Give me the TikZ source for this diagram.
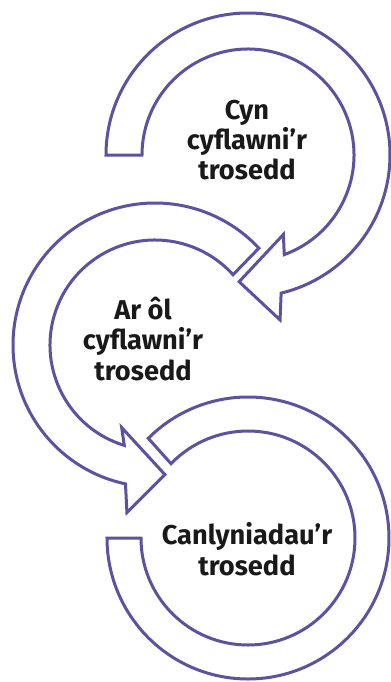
\documentclass[tikz,border=0pt]{standalone}
\usepackage{fontspec}
\setmainfont{Fira Sans}
\usepackage{xcolor}
\usepackage{tikz}
\usetikzlibrary{calc}
\definecolor{cylch}{RGB}{92,82,158}
\tikzset{
  saeth/.style={draw=cylch,line width=1.5pt,fill=white,line join=miter},
  testun/.style={font=\bfseries\fontsize{13.6}{15.2}\selectfont,align=center,text=black!90}
}

\begin{document}
\begin{tikzpicture}[x=.5pt,y=.5pt]
\useasboundingbox (0,0) rectangle (391,-682);
\coordinate (top) at (248,-155);
\coordinate (mid) at (155,-345);
\coordinate (bot) at (248,-538);

\draw[saeth] ($(top)+(180:142)$) arc[start angle=180,end angle=-76.5,radius=142]
  -- ($(top)+(-79:168)$) -- ($(top)+(-94:127)$) -- ($(top)+(-66:87)$)
  -- ($(top)+(-70:106)$) arc[start angle=-70,end angle=180,radius=106] -- cycle;

\draw[saeth] ($(mid)+(43:142)$) arc[start angle=43,end angle=258,radius=142]
  -- ($(mid)+(-99.5:170)$) -- ($(mid)+(-85.6:130)$) -- ($(mid)+(-112:89)$)
  -- ($(mid)+(253:105)$) arc[start angle=253,end angle=42,radius=105] -- cycle;

\draw[saeth] ($(bot)+(135:141)$) arc[start angle=135,end angle=-180,radius=141]
  -- ($(bot)+(180:107)$) arc[start angle=-180,end angle=136,radius=107] -- cycle;

\node[testun] (cyn) at (247,-140) {Cyn\\cyflawni’r\\trosedd};
\node[testun] (arol) at (143,-339) {Ar ôl\\cyflawni’r\\trosedd};
\node[testun] (canlyniadau) at (247,-549) {Canlyniadau’r\\trosedd};
\end{tikzpicture}
\end{document}
